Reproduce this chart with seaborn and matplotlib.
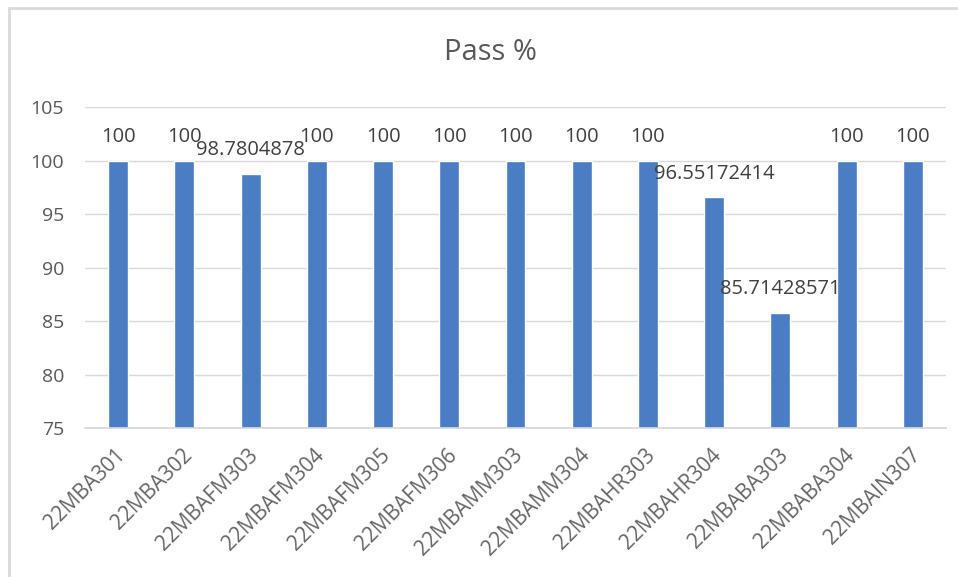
import numpy as np
import pandas as pd
import matplotlib
matplotlib.use("Agg")
import matplotlib.pyplot as plt
import matplotlib.transforms as mtransforms
import seaborn as sns

# chart data
courses = ["22MBA301", "22MBA302", "22MBAFM303", "22MBAFM304", "22MBAFM305",
           "22MBAFM306", "22MBAMM303", "22MBAMM304", "22MBAHR303", "22MBAHR304",
           "22MBABA303", "22MBABA304", "22MBAIN307"]
pass_pct = [100, 100, 98.7804878, 100, 100, 100, 100, 100, 100, 96.55172414,
            85.71428571, 100, 100]
value_labels = ["100", "100", "98.7804878", "100", "100", "100", "100", "100",
                "100", "96.55172414", "85.71428571", "100", "100"]

df = pd.DataFrame({"course": courses, "pass": pass_pct})

sns.set_theme(style="white")
plt.rcParams["font.family"] = ["Open Sans", "DejaVu Sans"]

fig = plt.figure(figsize=(9.58, 5.77), dpi=100)
ax = fig.add_axes([85 / 958, 1 - 428 / 577, 861 / 958, 321 / 577])

sns.barplot(data=df, x="course", y="pass", color="#4A7DC4", saturation=1,
            width=0.3, ax=ax)

ax.set_ylim(75, 105)
ax.set_yticks(np.arange(75, 106, 5))
ax.set_xlim(-0.5, len(courses) - 0.5)
ax.yaxis.grid(True, color="#D9D9D9", linewidth=1)
ax.set_axisbelow(True)
for s in ["top", "right", "left"]:
    ax.spines[s].set_visible(False)
ax.spines["bottom"].set_color("#D9D9D9")
ax.set_xlabel("")
ax.set_ylabel("")
ax.tick_params(axis="y", colors="#595959", labelsize=14, length=0, pad=15)
ax.tick_params(axis="x", colors="#666666", labelsize=15, length=0, pad=12)
shift = mtransforms.ScaledTranslation(-3 / 100, 0, fig.dpi_scale_trans)
for lbl in ax.get_xticklabels():
    lbl.set_rotation(45)
    lbl.set_ha("right")
    lbl.set_rotation_mode("anchor")
    lbl.set_transform(lbl.get_transform() + shift)

for i, (v, t) in enumerate(zip(pass_pct, value_labels)):
    ax.annotate(t, (i, v), xytext=(0, 10), textcoords="offset points",
                ha="center", va="bottom", fontsize=14.5, color="#404040")

fig.text(0.512, 1 - 53 / 577, "Pass %", ha="center", va="center",
         fontsize=21, color="#595959")

# frame edges visible at top and left of the chart area
frame = dict(transform=fig.transFigure, color="#D9D9D9", linewidth=2)
fig.add_artist(plt.Line2D([9 / 958, 9 / 958], [0, 1 - 8 / 577], **frame))
fig.add_artist(plt.Line2D([9 / 958, 1], [1 - 8 / 577, 1 - 8 / 577], **frame))

fig.savefig("out.png", dpi=100)
